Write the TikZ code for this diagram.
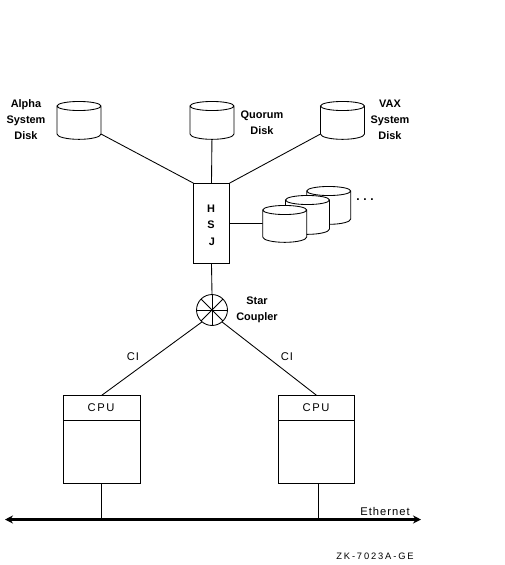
\documentclass[tikz,border=0pt]{standalone}
\usepackage{fontspec}
\setmainfont{Liberation Sans}
\usetikzlibrary{arrows.meta,backgrounds}
\tikzset{
  x=0.75pt,y=-0.75pt,
  every path/.style={line width=0.65pt},
  body/.style={draw=none,rectangle,inner sep=0pt,outer sep=0pt},
  wire/.style={draw,line width=0.65pt},
  boxed/.style={draw,fill=white,rectangle,inner sep=0pt,outer sep=0pt},
  lab/.style={font=\fontsize{8.2pt}{11pt}\selectfont\bfseries,align=center,inner sep=0pt},
  spaced/.style={font=\fontsize{8.4pt}{11pt}\selectfont\addfontfeature{LetterSpace=#1},align=center,inner sep=0pt},
  disk/.style={draw,fill=white,line width=0.65pt},
}
% #1 centre x, #2 top-ellipse centre y, #3 side bottom y
\newcommand{\diskshape}[3]{%
  \path[disk] (#1-22,#2) -- (#1-22,#3) arc[start angle=180,end angle=360,x radius=16.5pt,y radius=4pt]
     -- (#1+22,#2) arc[start angle=0,end angle=360,x radius=16.5pt,y radius=3.4pt];
}
\begin{document}
\begin{tikzpicture}
\useasboundingbox (0,0) rectangle (505,565);
% named bodies
\node[body,minimum width=33pt,minimum height=21pt] (alpha) at (79,120) {};
\node[body,minimum width=33pt,minimum height=21pt] (quorum) at (212,120) {};
\node[body,minimum width=33pt,minimum height=21pt] (vax) at (342.5,120) {};
\node[body,minimum width=33pt,minimum height=20pt] (front) at (284.7,223.5) {};
\node[boxed,minimum width=27pt,minimum height=60.5pt] (hsj) at (211.5,223.5) {};
\node[draw,circle,fill=white,inner sep=0pt,outer sep=0pt,minimum size=23.2pt] (star) at (212,310) {};
\node[boxed,minimum width=58pt,minimum height=66pt] (cpuA) at (101.75,439.3) {};
\node[boxed,minimum width=57pt,minimum height=66pt] (cpuB) at (316.5,439.3) {};
\coordinate (etherL) at (5,519.5);
\coordinate (etherR) at (421,519.5);
\coordinate (tapA) at (101.75,519.5);
\coordinate (tapB) at (318.5,519.5);
% connectors
\begin{scope}[on background layer]
\draw[wire] (alpha.south east) -- (hsj.north west);
\draw[wire] (quorum.south) -- (hsj.north);
\draw[wire] (vax.south west) -- (hsj.north east);
\draw[wire] (hsj.east |- front.west) -- (front.west);
\draw[wire] (hsj.south) -- (star.north);
\draw[wire] (star.-130) -- (cpuA.north);
\draw[wire] (star.-50) -- (cpuB.north);
\draw[wire] (cpuA.south) -- (tapA);
\draw[wire] (cpuB.south -| tapB) -- (tapB);
\end{scope}
% disks
\diskshape{79}{106}{134}
\diskshape{212}{106}{134}
\diskshape{342.5}{106}{134}
\diskshape{328.7}{191}{219}
\diskshape{307.5}{200}{229}
\diskshape{284.7}{210}{237}
% star spokes
\draw (star.west) -- (star.east);
\draw (star.north) -- (star.south);
\draw (star.north west) -- (star.south east);
\draw (star.north east) -- (star.south west);
% cpu dividers
\draw (cpuA.north west) ++(0,25) -- ++(77.5,0);
\draw (cpuB.north west) ++(0,25) -- ++(76,0);
% ethernet
\draw[line width=2pt,{Stealth[length=6pt,width=6pt]}-{Stealth[length=6pt,width=6pt]}] (etherL) -- (etherR);
% labels
\node[lab] (t1) at (26,120) {Alpha\\[1pt]System\\[1pt]Disk};
\node[lab] (t2) at (262,122.5) {Quorum\\[1pt]Disk};
\node[lab] (t3) at (390,120) {VAX\\[1pt]System\\[1pt]Disk};
\node[lab] (h1) at (211,209) {H};
\node[lab] (h2) at (211,225) {S};
\node[lab] (h3) at (212,242) {J};
\node[lab] (t4) at (257,310) {Star\\[1pt]Coupler};
\node[lab,font=\fontsize{9pt}{11pt}\selectfont\bfseries\addfontfeature{LetterSpace=30}] (d1) at (365,200) {...};
\node[spaced=8] (c1) at (133,357) {CI};
\node[spaced=8] (c2) at (287,357) {CI};
\node[spaced=14] (p1) at (101,408) {CPU};
\node[spaced=14] (p2) at (316,408) {CPU};
\node[spaced=9] (e) at (385,511) {Ethernet};
\node[font=\fontsize{7pt}{9pt}\selectfont\addfontfeature{LetterSpace=20},inner sep=0pt] (z) at (375,556) {ZK-7023A-GE};
\end{tikzpicture}
\end{document}
